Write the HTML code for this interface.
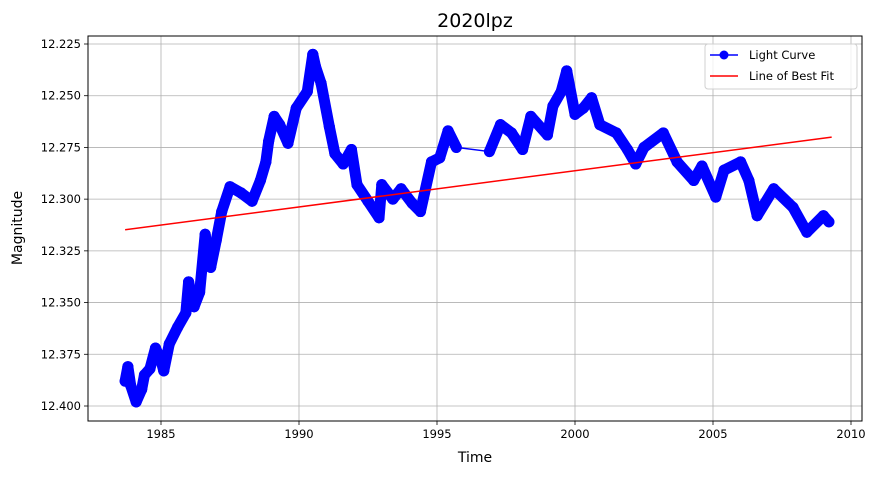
<!DOCTYPE html>
<html><head><meta charset="utf-8"><style>
body{margin:0;background:#fff;font-family:"Liberation Sans","DejaVu Sans",sans-serif}
svg text{font-family:"DejaVu Sans","Liberation Sans",sans-serif}
</style></head><body>
<svg id="chart" width="876" height="475"></svg>
<script>
const years=[1983.7,1983.8,1983.9,1984.1,1984.3,1984.4,1984.6,1984.8,1985.0,1985.1,1985.3,1985.6,1985.9,1986.0,1986.2,1986.4,1986.6,1986.8,1987.0,1987.2,1987.5,1987.9,1988.3,1988.6,1988.8,1988.9,1989.1,1989.3,1989.6,1989.9,1990.3,1990.5,1990.6,1990.8,1991.1,1991.3,1991.6,1991.9,1992.1,1992.5,1992.9,1993.0,1993.4,1993.7,1994.1,1994.4,1994.8,1995.1,1995.4,1995.7,1996.9,1997.3,1997.7,1998.1,1998.4,1999.0,1999.2,1999.5,1999.7,2000.0,2000.3,2000.6,2000.9,2001.5,2001.9,2002.2,2002.5,2003.2,2003.7,2004.3,2004.6,2005.1,2005.4,2006.0,2006.3,2006.6,2007.2,2007.9,2008.4,2009.0,2009.2];
const mags=[12.388,12.381,12.390,12.398,12.392,12.385,12.382,12.372,12.378,12.383,12.370,12.362,12.355,12.340,12.352,12.345,12.317,12.333,12.320,12.306,12.294,12.297,12.301,12.291,12.282,12.272,12.260,12.264,12.273,12.256,12.248,12.230,12.236,12.244,12.265,12.278,12.283,12.276,12.293,12.301,12.309,12.293,12.300,12.295,12.302,12.306,12.282,12.280,12.267,12.275,12.277,12.264,12.268,12.276,12.260,12.269,12.255,12.248,12.238,12.259,12.256,12.251,12.264,12.268,12.276,12.283,12.275,12.268,12.282,12.291,12.284,12.299,12.286,12.282,12.291,12.308,12.295,12.304,12.316,12.308,12.311];
const fitYears=[1983.7,2009.3];
const fitMags=[12.3148,12.2700];
const xTicks=[1985,1990,1995,2000,2005,2010];
const yTicks=[12.225,12.250,12.275,12.300,12.325,12.350,12.375,12.400];

const NS="http://www.w3.org/2000/svg";
const svg=document.getElementById('chart');
const L=88,R=862,T=36,B=421;
const xs=y=>161+(y-1985)*27.6;
const ys=m=>44+(m-12.225)*(362/0.175);
function mk(t,a){const e=document.createElementNS(NS,t);for(const k in a)e.setAttribute(k,a[k]);svg.appendChild(e);return e;}

xTicks.forEach(t=>{
  const g=mk('line',{x1:xs(t),x2:xs(t),y1:T,y2:B,stroke:'#b0b0b0','stroke-width':0.8});
  
  
  mk('line',{x1:xs(t),x2:xs(t),y1:B,y2:B+4,stroke:'#000','stroke-width':0.8});
  const tx=mk('text',{x:xs(t),y:B+17,'text-anchor':'middle','font-size':11.5,fill:'#000'});
  tx.textContent=t;
  
  
});
yTicks.forEach(t=>{
  const g=mk('line',{x1:L,x2:R,y1:ys(t),y2:ys(t),stroke:'#b0b0b0','stroke-width':0.8});
  
  
  mk('line',{x1:L-4,x2:L,y1:ys(t),y2:ys(t),stroke:'#000','stroke-width':0.8});
  const tx=mk('text',{x:L-7,y:ys(t)+4,'text-anchor':'end','font-size':11.5,fill:'#000'});
  tx.textContent=t.toFixed(3);
  
  
});

for(let i=1;i<years.length;i++){
  const dense=years[i]-years[i-1]<1;
  const s=mk('line',{x1:xs(years[i-1]),y1:ys(mags[i-1]),x2:xs(years[i]),y2:ys(mags[i]),stroke:'#0000ff','stroke-width':dense?11:1.5,'stroke-linecap':'round'});
  
  
}
years.forEach((y,i)=>{
  const c=mk('circle',{cx:xs(y),cy:ys(mags[i]),r:5.5,fill:'#0000ff'});
  
  
});
const fit=mk('line',{x1:xs(fitYears[0]),y1:ys(fitMags[0]),x2:xs(fitYears[1]),y2:ys(fitMags[1]),stroke:'#ff0000','stroke-width':1.5});



const fr=mk('rect',{x:L,y:T,width:R-L,height:B-T,fill:'none',stroke:'#000','stroke-width':1});


</script>
<svg style="position:absolute;left:0;top:0" width="876" height="475">
<text x="475" y="27" text-anchor="middle" font-size="19">2020lpz</text>
<text x="475" y="462" text-anchor="middle" font-size="14">Time</text>
<text x="22" y="228" text-anchor="middle" font-size="14" transform="rotate(-90 22 228)">Magnitude</text>
<g>
<rect x="705" y="44" width="152" height="45" rx="3" fill="#fff" fill-opacity="0.8" stroke="#d0d0d0"/>
<line x1="710" y1="55" x2="738" y2="55" stroke="#0000ff" stroke-width="1.5"/>
<circle cx="724" cy="55" r="4.5" fill="#0000ff"/>
<text x="749" y="59" font-size="11.5">Light Curve</text>
<line x1="710" y1="76" x2="738" y2="76" stroke="#ff0000" stroke-width="1.5"/>
<text x="749" y="80" font-size="11.5">Line of Best Fit</text>
</g>
</svg>
</body></html>
